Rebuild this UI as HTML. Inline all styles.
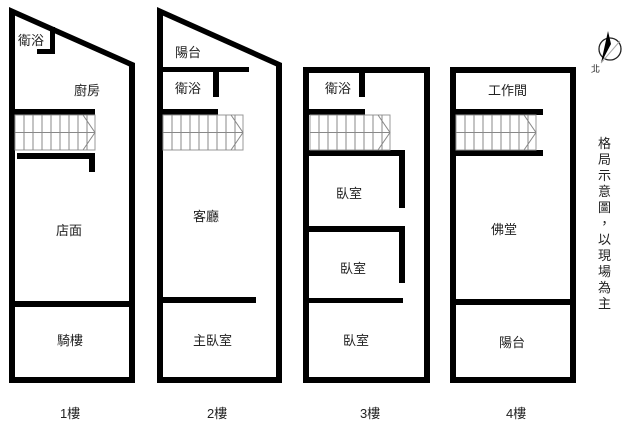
<!DOCTYPE html>
<html><head><meta charset="utf-8"><style>
html,body{margin:0;padding:0;background:#fff;width:640px;height:424px;overflow:hidden}
text{font-family:"Liberation Sans","Noto Sans CJK TC",sans-serif;font-size:13px;fill:#222}
</style></head><body>
<svg width="640" height="424" viewBox="0 0 640 424" xmlns="http://www.w3.org/2000/svg">
<defs>
<g id="st">
<rect x="0" y="0" width="80" height="35" fill="none" stroke="#999" stroke-width="1"/>
<path d="M9 0V35M18 0V35M27 0V35M36 0V35M45 0V35M54 0V35M63 0V35M72 0V35M0 17.5H80M68 0L80 17.5L68 35" stroke="#888" stroke-width="1" fill="none"/>
</g>
</defs>
<g fill="#000">
<!-- Plan 1 -->
<rect x="9" y="10" width="6" height="373"/>
<polygon points="9,7 135,63 135,69 9,13"/>
<rect x="129" y="65" width="6" height="318"/>
<rect x="9" y="377" width="126" height="6"/>
<rect x="50" y="27" width="5" height="27"/>
<rect x="37" y="49" width="18" height="5"/>
<rect x="15" y="109" width="80" height="6"/>
<rect x="17" y="153" width="78" height="6"/>
<rect x="89" y="153" width="6" height="19"/>
<rect x="15" y="301" width="114" height="6"/>
<!-- Plan 2 -->
<rect x="157" y="10" width="6" height="373"/>
<polygon points="157,7 282,63 282,69 157,13"/>
<rect x="276" y="65" width="6" height="318"/>
<rect x="157" y="377" width="125" height="6"/>
<rect x="163" y="67" width="86" height="5"/>
<rect x="213" y="67" width="6" height="30"/>
<rect x="163" y="109" width="55" height="6"/>
<rect x="163" y="297" width="93" height="6"/>
<!-- Plan 3 -->
<rect x="303" y="67" width="127" height="6"/>
<rect x="303" y="67" width="6" height="316"/>
<rect x="424" y="67" width="6" height="316"/>
<rect x="303" y="377" width="127" height="6"/>
<rect x="359" y="73" width="6" height="24"/>
<rect x="309" y="109" width="56" height="6"/>
<rect x="309" y="150" width="96" height="6"/>
<rect x="399" y="150" width="6" height="58"/>
<rect x="309" y="226" width="96" height="6"/>
<rect x="399" y="226" width="6" height="57"/>
<rect x="309" y="298" width="94" height="5"/>
<!-- Plan 4 -->
<rect x="450" y="67" width="126" height="6"/>
<rect x="450" y="67" width="6" height="316"/>
<rect x="570" y="67" width="6" height="316"/>
<rect x="450" y="377" width="126" height="6"/>
<rect x="456" y="109" width="87" height="6"/>
<rect x="456" y="150" width="87" height="6"/>
<rect x="456" y="299" width="114" height="6"/>
</g>
<use href="#st" x="15" y="115"/>
<use href="#st" x="163" y="115"/>
<use href="#st" x="310" y="115"/>
<use href="#st" x="456" y="115"/>
<!-- labels -->
<text x="18" y="45">衛浴</text>
<text x="74" y="95">廚房</text>
<text x="56" y="235">店面</text>
<text x="57" y="345">騎樓</text>
<text x="175" y="57">陽台</text>
<text x="175" y="93">衛浴</text>
<text x="193" y="221">客廳</text>
<text x="193" y="345">主臥室</text>
<text x="325" y="93">衛浴</text>
<text x="336" y="198">臥室</text>
<text x="340" y="273">臥室</text>
<text x="343" y="345">臥室</text>
<text x="488" y="95">工作間</text>
<text x="491" y="234">佛堂</text>
<text x="499" y="347">陽台</text>
<text x="60" y="418">1樓</text>
<text x="207" y="418">2樓</text>
<text x="360" y="418">3樓</text>
<text x="506" y="418">4樓</text>
<!-- compass -->
<circle cx="610" cy="49" r="11" fill="none" stroke="#222" stroke-width="1.3"/>
<polygon points="608,31 611,44 601,63" fill="#000"/>
<line x1="620" y1="41" x2="601" y2="63" stroke="#aaa" stroke-width="1"/>
<text x="591" y="72" style="font-size:9px">北</text>
<!-- vertical note -->
<g style="font-size:13px">
<text x="598" y="148">格</text><text x="598" y="164">局</text><text x="598" y="180">示</text><text x="598" y="196">意</text><text x="598" y="212">圖</text><text x="598" y="228">，</text><text x="598" y="244">以</text><text x="598" y="260">現</text><text x="598" y="276">場</text><text x="598" y="292">為</text><text x="598" y="308">主</text>
</g>
</svg>
</body></html>
